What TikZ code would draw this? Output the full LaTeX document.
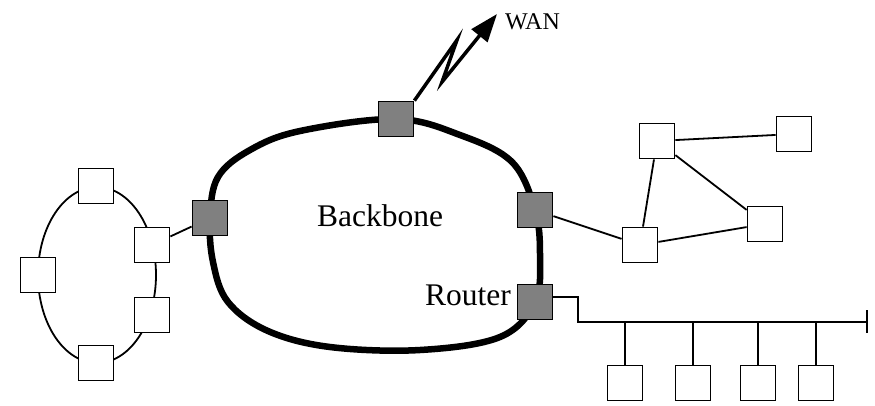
\documentclass[tikz,border=0pt]{standalone}
\usepackage{fontspec}
\setmainfont{Liberation Serif}
\usetikzlibrary{arrows.meta, positioning, calc}
\definecolor{routergray}{RGB}{128,128,128}

\begin{document}
\begin{tikzpicture}[
        x=1pt, y=-1pt,
        host/.style={rectangle, draw=black, fill=white, line width=1.8pt, minimum size=35pt, inner sep=0pt},
        router/.style={host, fill=routergray},
        link/.style={line width=1.8pt},
        lbl/.style={inner sep=0pt, font=\fontsize{31.5}{36}\selectfont}
    ]
        \useasboundingbox (0,0) rectangle (875,405);

        % backbone ring
        \draw[line width=6.5pt, line join=round] plot[smooth cycle, tension=0.6] coordinates {
            (210,218) (218,177) (250,150) (300,131) (396,119) (460,135) (512,162)
            (535,210) (540,255) (535,302) (500,337) (420,350) (330,347) (268,331)
            (228,302) (213,262)};
        \node[lbl] (backbone) at (380,216) {Backbone};

        % ring network on the left
        \draw[link] (97,275) ellipse [x radius=59, y radius=88];
        \node[host] (ring1) at (96,186) {};
        \node[host] (ring2) at (152,245) {};
        \node[host] (ring3) at (152,315) {};
        \node[host] (ring4) at (96,363) {};
        \node[host] (ring5) at (38,275) {};

        % routers on the backbone
        \node[router] (gwleft) at (210,218) {};
        \node[router] (gwtop) at (396,119) {};
        \node[router] (gwright) at (535,210) {};
        \node[router] (gwbus) at (535,302) {};
        \node[lbl, anchor=base east] (routerlbl) at (511,305) {Router};

        \draw[link] (ring2) -- (gwleft);

        % WAN uplink
        \node[lbl, anchor=base west, font=\fontsize{24}{28}\selectfont] (wan) at (505,29) {WAN};
        \coordinate (zigtop) at (457,40);
        \coordinate (zigbot) at (442,82);
        \coordinate (wantip) at (497,14);
        \draw[line width=3.5pt, line join=miter, -{Triangle[length=28pt, width=20pt]}]
            (gwtop.north east) -- (zigtop) -- (zigbot) -- (wantip);

        % mesh network on the right
        \node[host] (mesh1) at (657,141) {};
        \node[host] (mesh2) at (794,134) {};
        \node[host] (mesh3) at (765,224) {};
        \node[host] (mesh4) at (640,245) {};
        \draw[link] (gwright) -- (mesh4);
        \draw[link] (mesh1) -- (mesh2);
        \draw[link] (mesh1) -- (mesh3);
        \draw[link] (mesh1) -- (mesh4);
        \draw[link] (mesh4) -- (mesh3);

        % bus network
        \coordinate (busstart) at (578,322);
        \coordinate (busend) at (867,322);
        \draw[link] ([yshift=5pt]gwbus.east) -| (busstart) -- (busend);
        \draw[link] ([yshift=12pt]busend) -- ([yshift=-11pt]busend);
        \foreach \i/\x in {1/625, 2/693, 3/758, 4/816} {
            \node[host] (bus\i) at (\x,383) {};
            \draw[link] (bus\i.north) -- (bus\i.north |- busend);
        }
    \end{tikzpicture}
\end{document}
